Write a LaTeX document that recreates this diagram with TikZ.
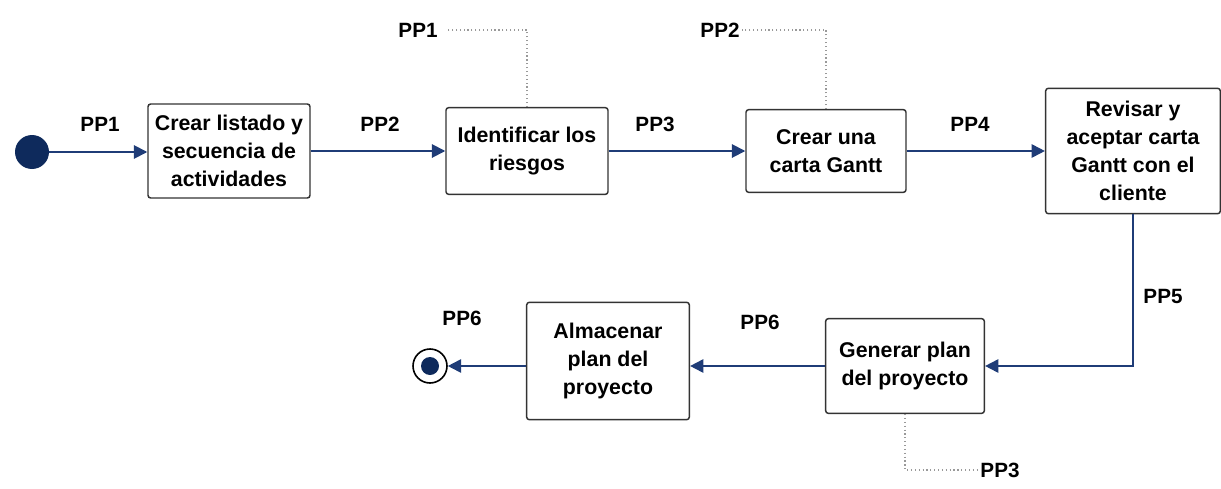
\documentclass[tikz,border=0pt]{standalone}
\usepackage{fontspec}
\setmainfont{Liberation Sans}
\usetikzlibrary{arrows.meta}
\definecolor{flow}{HTML}{1F3C77}
\definecolor{dot}{HTML}{0E2A5C}
\definecolor{edge}{HTML}{333333}
\tikzset{
  stepbox/.style={draw=edge, line width=1.1pt, rounded corners=2pt, fill=white,
    align=center, font=\bfseries\fontsize{16}{21}\selectfont, inner sep=2pt},
  flowline/.style={draw=flow, line width=1.4pt, -{Triangle[length=10pt,width=10pt]}},
  refline/.style={draw=gray!80, line width=0.9pt, dotted},
  tag/.style={font=\bfseries\fontsize{15.5}{17}\selectfont, inner sep=1pt}
}
\begin{document}
\begin{tikzpicture}[x=0.75pt,y=-0.75pt]
\useasboundingbox (0,0) rectangle (1221,489);

% initial and final states
\node[circle, minimum size=25.5pt, inner sep=0pt, fill=dot] (start) at (32,152) {};
\node[circle, minimum size=25.5pt, inner sep=0pt, draw=black, line width=1.2pt] (final) at (430,366) {};
\fill[dot] (final.center) circle (9);

% activities
\node[stepbox, minimum width=121.5pt, minimum height=70.5pt] (b1) at (229,151) {Crear listado y\\secuencia de\\actividades};
\node[stepbox, minimum width=121.5pt, minimum height=65pt] (b2) at (527,151) {Identificar los\\riesgos};
\node[stepbox, minimum width=120pt, minimum height=62pt] (b3) at (826,151) {Crear una\\carta Gantt};
\node[stepbox, minimum width=131pt, minimum height=94pt] (b4) at (1133,151) {Revisar y\\aceptar carta\\Gantt con el\\cliente};
\node[stepbox, minimum width=119pt, minimum height=71pt] (b5) at (905,366) {Generar plan\\del proyecto};
\node[stepbox, minimum width=122pt, minimum height=88pt] (b6) at (608,361) {Almacenar\\plan del\\proyecto};

% flow labels
\node[tag] (l1) at (100,124) {PP1};
\node[tag] (l2) at (380,124) {PP2};
\node[tag] (l3) at (655,124) {PP3};
\node[tag] (l4) at (970,124) {PP4};
\node[tag] (l5) at (1163,296) {PP5};
\node[tag] (l6) at (760,322) {PP6};
\node[tag] (l7) at (462,318) {PP6};

% reference labels
\node[tag] (r1) at (418,30) {PP1};
\node[tag] (r2) at (720,30) {PP2};
\node[tag] (r3) at (1000,470) {PP3};

% control flow
\draw[flowline] (start) -- (b1.west |- start);
\draw[flowline] (b1) -- (b2);
\draw[flowline] (b2) -- (b3);
\draw[flowline] (b3) -- (b4);
\draw[flowline] (b4.south) |- (b5.east);
\draw[flowline] (b5.west) -- (b6.east |- b5.west);
\draw[flowline] (b6.west |- final) -- (final.east);

% dotted references
\draw[refline] (b2.north) |- ([xshift=5pt]r1.east);
\draw[refline] (b3.north) |- ([xshift=1pt]r2.east);
\draw[refline] (b5.south) |- ([xshift=-1pt]r3.west);
\end{tikzpicture}
\end{document}
